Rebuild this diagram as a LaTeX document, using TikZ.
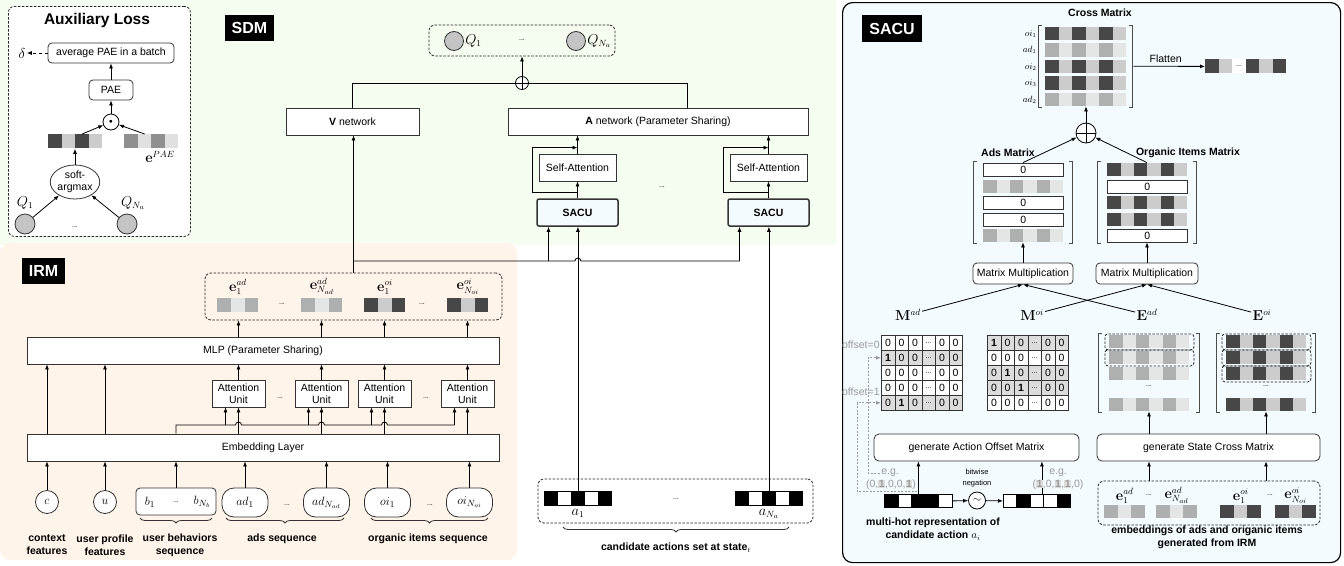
\documentclass[tikz,border=0pt]{standalone}
\usepackage{amsmath,amssymb}
\usepackage[no-math]{fontspec}
\setmainfont{Liberation Sans}
\usetikzlibrary{arrows.meta,shapes,positioning,calc,decorations.pathreplacing}

\definecolor{sdmbg}{HTML}{F4FDF0}
\definecolor{irmbg}{HTML}{FFF4EA}
\definecolor{sacubg}{HTML}{F3FBFE}
\definecolor{dk}{HTML}{474747}
\definecolor{lt}{HTML}{CCCCCC}
\definecolor{md}{HTML}{ADB0AF}
\definecolor{vl}{HTML}{E4E6E5}
\definecolor{pg}{HTML}{8F8F8F}
\definecolor{pl}{HTML}{E0E0E0}
\definecolor{qgray}{HTML}{C4C4C4}
\definecolor{shade}{HTML}{DCDCDC}
\definecolor{note}{HTML}{9A9A9A}

\newcommand{\figfont}{\fontsize{10.5}{12}\selectfont}
\newcommand{\dotsym}{{\fontsize{7}{7}\selectfont...}}
\newcommand{\hibit}[1]{{\setlength{\fboxsep}{0.5pt}\colorbox{shade}{\textbf{#1}}}}
% one row of coloured cells: [opts]{name}{x}{y}{cell w}{cell h}{fills}
\newcommand{\strip}[7][]{%
  \foreach \fc [count=\ci] in {#7}
    \node[cell, fill=\fc, minimum width=#5pt, minimum height=#6pt, #1] (#2-\ci) at ({#3+(\ci-1)*#5},#4) {};
}
% square brackets round a matrix node
\newcommand{\brk}[2]{%
  \draw[brk] ($(#1.north west)+(3-#2,-1)$) -- ++(-3,0) |- ($(#1.south west)+(3-#2,1)$);
  \draw[brk] ($(#1.north east)+(#2-3,-1)$) -- ++(3,0) |- ($(#1.south east)+(#2-3,1)$);
}

\tikzset{
    box/.style={
        rectangle,
        draw=black!80,
        fill=white,
        inner sep=1pt,
        align=center,
        font=\figfont,
    },
    rbox/.style={
        box,
        rounded corners=4pt,
    },
    sacubox/.style={
        box,
        fill=sacubg,
        line width=1.5pt,
        rounded corners=2pt,
        font=\figfont\bfseries,
    },
    pill/.style={
        rectangle,
        rounded corners=12pt,
        draw=black!80,
        fill=white,
        minimum width=46pt,
        minimum height=29pt,
        inner sep=0pt,
        font=\fontsize{12.5}{14}\selectfont,
    },
    tag/.style={
        rectangle,
        fill=black,
        text=white,
        inner xsep=7pt,
        inner ysep=7.5pt,
        font=\fontsize{16}{18}\selectfont\bfseries,
    },
    dashbox/.style={
        rectangle,
        draw=black!85,
        dash pattern=on 2.5pt off 1.5pt,
        rounded corners=6pt,
    },
    qnode/.style={
        circle,
        draw=black!80,
        fill=qgray,
        minimum size=19pt,
        inner sep=0pt,
    },
    op/.style={
        circle,
        draw=black,
        fill=white,
        inner sep=0pt,
    },
    oplus/.style={
        path picture={\draw (path picture bounding box.north) -- (path picture bounding box.south)
                            (path picture bounding box.west) -- (path picture bounding box.east);},
    },
    cell/.style={
        rectangle,
        inner sep=0pt,
        anchor=north west,
    },
    mcell/.style={
        cell,
        draw=black!80,
        line width=0.6pt,
        minimum width=13.5pt,
        minimum height=15pt,
        font=\figfont,
    },
    mlabel/.style={
        inner sep=1pt,
        font=\fontsize{13.5}{15}\selectfont,
    },
    lbl/.style={
        align=center,
        font=\fontsize{10.5}{13}\selectfont\bfseries,
    },
    gray note/.style={
        inner sep=1pt,
        text=note,
        font=\figfont,
    },
    offarrow/.style={
        ->,
        draw=note,
        dash pattern=on 2pt off 1.5pt,
        line width=0.7pt,
    },
    brk/.style={
        draw=black!70,
        line width=0.9pt,
    },
    brace/.style={
        decorate,
        decoration={brace, mirror, amplitude=5pt},
        draw=black!80,
    },
    every edge/.style={
        draw,
        ->,
    },
}

\begin{document}
\begin{tikzpicture}[x=1pt, y=-1pt, line width=0.8pt, >={Latex[length=5pt,width=4pt]}]
\useasboundingbox (0,0) rectangle (1344,565);

\fill[sdmbg] (0,0) rectangle (836,245);
\fill[irmbg, rounded corners=10pt] (0,243) rectangle (517,560);
\node[rectangle, draw=black, line width=1.2pt, fill=sacubg, rounded corners=10pt, anchor=north west,
      minimum width=498pt, minimum height=560pt] (sacupanel) at (842,2) {};

% auxiliary loss
\node[dashbox, fill=white, anchor=north west, minimum width=182pt, minimum height=230pt] (aux) at (8,6) {};
\node[font=\fontsize{15.5}{17}\selectfont\bfseries] (auxtitle) at (97,20) {Auxiliary Loss};
\node[rbox, minimum width=126pt, minimum height=20pt] (avg) at (111,53) {average PAE in a batch};
\node[mlabel] (delta) at (22,53) {$\delta$};
\node[rbox, minimum width=44pt, minimum height=20pt] (pae) at (111,90) {PAE};
\node[op, minimum size=16pt, font=\fontsize{7}{7}\selectfont] (dot) at (111,122) {$\bullet$};
\strip{pv}{48}{134}{13.5}{14}{dk,lt,dk,lt}
\strip{pe}{124}{134}{13.5}{14}{pg,pl,pg,pl}
\node[mlabel] (epae) at (160,157) {$\mathbf{e}^{PAE}$};
\node[ellipse, draw=black!80, fill=white, minimum width=46pt, minimum height=34pt, inner sep=0pt,
      align=center, font=\figfont] (smax) at (75,182) {soft-\\argmax};
\node[qnode, minimum size=20pt] (aq1) at (25,224) {};
\node[qnode, minimum size=20pt] (aqn) at (127,224) {};
\node[mlabel] (aq1l) at (25,203) {$Q_1$};
\node[mlabel] (aqnl) at (133,203) {$Q_{N_a}$};
\node (auxdots) at (75,227) {\dotsym};
\draw[dashed] (avg) edge (delta);
\draw (pae) edge (avg);
\draw (dot) edge (pae);
\draw (pv-3.north) edge (dot);
\draw (pe-2.north) edge (dot);
\draw (smax) edge (pv-3.south west);
\draw (aq1) edge (smax);
\draw (aqn) edge (smax);

% SDM
\node[tag] (sdm) at (249.5,28) {SDM};
\node[dashbox, minimum width=186pt, minimum height=31pt] (qbox) at (522,40.5) {};
\node[qnode] (q1) at (454,41) {};
\node[mlabel, right=0pt of q1] (q1l) {$Q_1$};
\node[qnode] (qn) at (576,41) {};
\node[mlabel, right=0pt of qn] (qnl) {$Q_{N_a}$};
\node (qdots) at (522,40) {\dotsym};
\node[op, oplus, minimum size=13pt] (sum) at (522,83) {};
\draw (sum) edge (qbox);
\node[box, minimum width=133pt, minimum height=27pt] (vnet) at (352.5,121.5) {\textbf{V} network};
\node[box, minimum width=300pt, minimum height=27pt] (anet) at (658,121.5) {\textbf{A} network (Parameter Sharing)};
\draw (vnet.north) |- (sum.west);
\draw ([xshift=29pt]anet.north) |- (sum.east);
\node[box, minimum width=77pt, minimum height=27pt] (sa1) at (577.5,167.5) {Self-Attention};
\node[sacubox, minimum width=81pt, minimum height=27pt] (sacu1) at (577.5,212.5) {SACU};
\node[box, minimum width=77pt, minimum height=27pt] (sa2) at (768.5,167.5) {Self-Attention};
\node[sacubox, minimum width=81pt, minimum height=27pt] (sacu2) at (768.5,212.5) {SACU};
\node (sadots) at (662,187) {\dotsym};
\foreach \s in {1,2} {
  \draw (sacu\s) edge (sa\s);
  \draw (sa\s) edge (sa\s.north |- anet.south);
  \draw[->] ($(sacu\s.north)+(0,-6)$) -- ++(-45,0) |- ($(sa\s.north)+(0,-6)$);
}

% IRM
\node[tag] (irm) at (43.5,270.5) {IRM};
\node[dashbox, minimum width=297pt, minimum height=47pt] (ebox) at (353.5,296.5) {};
\strip{iva}{217}{298}{13.67}{14}{md,vl,md}
\strip{ivb}{301}{298}{13.67}{14}{md,vl,md}
\strip{ivc}{364}{298}{13.67}{14}{dk,lt,dk}
\strip{ivd}{447}{298}{13.67}{14}{dk,lt,dk}
\node[mlabel, above=2pt of iva-2] (iea) {$\mathbf{e}^{ad}_1$};
\node[mlabel, above=2pt of ivb-2] (ieb) {$\mathbf{e}^{ad}_{N_{ad}}$};
\node[mlabel, above=2pt of ivc-2] (iec) {$\mathbf{e}^{oi}_1$};
\node[mlabel, above=2pt of ivd-2] (ied) {$\mathbf{e}^{oi}_{N_{oi}}$};
\node (edots1) at (282,304) {\dotsym};
\node (edots2) at (422,304) {\dotsym};
\node[box, minimum width=472pt, minimum height=27pt] (mlp) at (263,350.5) {MLP (Parameter Sharing)};
\foreach \i/\x in {1/238.5,2/321.5,3/384.5,4/467.5}
  \node[box, minimum width=53pt, minimum height=27pt, inner sep=0pt] (au\i) at (\x,393.5) {Attention\\Unit};
\node (audots1) at (280,398) {\dotsym};
\node (audots2) at (426,398) {\dotsym};
\node[box, minimum width=472pt, minimum height=27pt] (emb) at (263,447.5) {Embedding Layer};
\node[circle, draw=black!80, fill=white, minimum size=23pt, inner sep=0pt, font=\fontsize{12.5}{14}\selectfont] (ctx) at (47,502) {$c$};
\node[circle, draw=black!80, fill=white, minimum size=23pt, inner sep=0pt, font=\fontsize{12.5}{14}\selectfont] (usr) at (105,502) {$u$};
\node[rbox, minimum width=80pt, minimum height=27pt] (beh) at (176,501.5) {};
\node[font=\fontsize{12.5}{14}\selectfont] (b1) at (150,502) {$b_1$};
\node (bdots) at (176,502) {\dotsym};
\node[font=\fontsize{12.5}{14}\selectfont] (bn) at (202,502) {$b_{N_b}$};
\node[pill] (ad1) at (245,502.5) {$ad_1$};
\node[pill] (adn) at (326.5,502.5) {$ad_{N_{ad}}$};
\node[pill] (oi1) at (387.5,502.5) {$oi_1$};
\node[pill] (oin) at (469.5,502.5) {$oi_{N_{oi}}$};
\node (pdots1) at (287,505) {\dotsym};
\node (pdots2) at (430,505) {\dotsym};
\draw[brace] (140,518) -- (212,518);
\draw[brace] (226,518) -- (344,518);
\draw[brace] (371,518) -- (488,518);
\node[lbl] (lctx) at (47,545) {context\\features};
\node[lbl] (lusr) at (105,545) {user profile\\features};
\node[lbl] (lbeh) at (180,545) {user behaviors\\sequence};
\node[lbl] (lads) at (282,538.5) {ads sequence};
\node[lbl] (loi) at (428,538.5) {organic items sequence};
\foreach \n in {ctx,usr,beh,ad1,adn,oi1,oin}
  \draw (\n) edge (\n.north |- emb.south);
\foreach \n in {ctx,usr}
  \draw (\n.north |- emb.north) edge (\n.north |- mlp.south);
\foreach \i in {1,...,4} {
  \coordinate (in\i) at ([xshift=-13pt]au\i.south);
  \draw (au\i) edge (au\i.north |- mlp.south);
  \draw (au\i.north |- mlp.north) edge (au\i.north |- ebox.south);
  \draw (au\i.south |- emb.north) edge (au\i.south);
}
\coordinate (bus) at (176,425);
\draw (beh.north |- emb.north) -- (bus)
  -- ($(au1.south |- bus)+(-3,0)$) arc[start angle=180, end angle=360, radius=3]
  -- ($(au2.south |- bus)+(-3,0)$) arc[start angle=180, end angle=360, radius=3]
  -- ($(au3.south |- bus)+(-3,0)$) arc[start angle=180, end angle=360, radius=3]
  -- (in4 |- bus) edge (in4);
\foreach \i in {1,2,3}
  \draw (in\i |- bus) edge (in\i);

% candidate actions
\node[dashbox, minimum width=275pt, minimum height=44pt] (cand) at (675.5,501) {};
\strip[draw=black]{a1}{544}{491}{13.4}{14}{black,white,black,white,black}
\strip[draw=black]{an}{735}{491}{13.4}{14}{black,white,black,white,black}
\node[mlabel, below=2pt of a1-3] (a1l) {$a_1$};
\node[mlabel, below=2pt of an-3] (anl) {$a_{N_a}$};
\node (cdots) at (676,499) {\dotsym};
\draw[brace] (563,527) -- (789,527);
\node[lbl] (lcand) at (676,548) {candidate actions set at state$_t$};

% IRM and candidates into SDM
\coordinate (jn) at (ebox.north |- 0,261);
\draw (ebox.north) edge (ebox.north |- vnet.south);
\draw (jn) -- ($(a1-3.north |- jn)+(-3,0)$) arc[start angle=180, end angle=360, radius=3]
  -- ([xshift=-29pt]sacu2.south |- jn) edge ([xshift=-29pt]sacu2.south);
\draw ([xshift=-29pt]sacu1.south |- jn) edge ([xshift=-29pt]sacu1.south);
\draw (a1-3.north) edge (a1-3.north |- sacu1.south);
\draw (an-3.north) edge (an-3.north |- sacu2.south);

% SACU
\node[tag] (sacutag) at (892,28.5) {SACU};
\node[lbl] (cmt) at (1100,13) {Cross Matrix};
\node[inner sep=0pt, minimum width=81pt, minimum height=79.5pt] (cm) at (1085.5,66.25) {};
\strip{cmA}{1045}{26.5}{13.5}{13.5}{dk,lt,dk,lt,dk,lt}
\strip{cmB}{1045}{43}{13.5}{13.5}{md,vl,md,vl,md,vl}
\strip{cmC}{1045}{59.5}{13.5}{13.5}{dk,lt,dk,lt,dk,lt}
\strip{cmD}{1045}{76}{13.5}{13.5}{dk,lt,dk,lt,dk,lt}
\strip{cmE}{1045}{92.5}{13.5}{13.5}{md,vl,md,vl,md,vl}
\foreach \rw/\txt in {A/oi_1,B/ad_1,C/oi_2,D/oi_3,E/ad_2}
  \node[left=8pt of cm\rw-1, inner sep=0pt, font=\fontsize{9}{10}\selectfont] (rl\rw) {$\txt$};
\brk{cm}{6}
\strip{flat}{1205}{59}{13.5}{14}{dk,lt,white,dk,lt,dk}
\node (fdots) at (flat-3) {\dotsym};
\draw (cm.east) edge[shorten <=7pt] node[above, font=\figfont] (flab) {Flatten} (flat-1.west);
\node[op, oplus, minimum size=20pt] (sum2) at (1086,133) {};
\draw (sum2) edge (sum2 |- cm.south);

\node[lbl] (amt) at (1008,153) {Ads Matrix};
\node[lbl] (omt) at (1188,153) {Organic Items Matrix};
\node[inner sep=0pt, minimum width=80pt, minimum height=79pt] (am) at (1023,202.5) {};
\node[box, cell, minimum width=80pt, minimum height=13pt] (am1) at (983,163) {0};
\strip{am2}{983}{179.5}{13.33}{13}{md,vl,md,vl,md,vl}
\node[box, cell, minimum width=80pt, minimum height=13pt] (am3) at (983,196) {0};
\node[box, cell, minimum width=80pt, minimum height=13pt] (am4) at (983,212.5) {0};
\strip{am5}{983}{229}{13.33}{13}{md,vl,md,vl,md,vl}
\node[inner sep=0pt, minimum width=80pt, minimum height=79pt] (om) at (1147,202.5) {};
\strip{om1}{1107}{163}{13.33}{13}{dk,lt,dk,lt,dk,lt}
\node[box, cell, minimum width=80pt, minimum height=13pt] (om2) at (1107,179.5) {0};
\strip{om3}{1107}{196}{13.33}{13}{dk,lt,dk,lt,dk,lt}
\strip{om4}{1107}{212.5}{13.33}{13}{dk,lt,dk,lt,dk,lt}
\node[box, cell, minimum width=80pt, minimum height=13pt] (om5) at (1107,229) {0};
\brk{am}{9}
\brk{om}{9}
\draw (am.north) edge (sum2);
\draw (om.north) edge (sum2);
\node[rbox, minimum width=100pt, minimum height=21pt] (mm1) at (1023,273.5) {Matrix Multiplication};
\node[rbox, minimum width=102pt, minimum height=21pt] (mm2) at (1147,273.5) {Matrix Multiplication};
\draw (mm1) edge (am.south);
\draw (mm2) edge (om.south);

\node[mlabel] (mad) at (908,315) {$\mathbf{M}^{ad}$};
\node[mlabel] (moi) at (1032,315) {$\mathbf{M}^{oi}$};
\node[mlabel] (ead) at (1147,315) {$\mathbf{E}^{ad}$};
\node[mlabel] (eoi) at (1262,315) {$\mathbf{E}^{oi}$};
\draw (mad) edge (mm1.south);
\draw (ead) edge (mm1.south);
\draw (moi) edge (mm2.south);
\draw (eoi) edge (mm2.south);

\foreach \rw/\sh/\vals in {1/white/{0,0,0,\dotsym,0,0},2/shade/{\textbf{1},0,0,\dotsym,0,0},3/white/{0,0,0,\dotsym,0,0},4/white/{0,0,0,\dotsym,0,0},5/shade/{0,\textbf{1},0,\dotsym,0,0}}
  \foreach \val [count=\ci] in \vals
    \node[mcell, fill=\sh] (mad-\rw-\ci) at ({881+(\ci-1)*13.5},{335+(\rw-1)*15}) {\val};
\foreach \rw/\sh/\vals in {1/shade/{\textbf{1},0,0,\dotsym,0,0},2/white/{0,0,0,\dotsym,0,0},3/shade/{0,\textbf{1},0,\dotsym,0,0},4/shade/{0,0,\textbf{1},\dotsym,0,0},5/white/{0,0,0,\dotsym,0,0}}
  \foreach \val [count=\ci] in \vals
    \node[mcell, fill=\sh] (moi-\rw-\ci) at ({987+(\ci-1)*13.5},{335+(\rw-1)*15}) {\val};
\node[gray note, anchor=east] (off0) at (881,345) {offset=0};
\node[gray note, anchor=east] (off1) at (881,392) {offset=1};

\node[inner sep=0pt, minimum width=80pt, minimum height=76pt] (eadm) at (1149,373) {};
\strip{ea1}{1109}{335}{13.33}{13}{md,vl,md,vl,md,vl}
\strip{ea2}{1109}{351}{13.33}{13}{md,vl,md,vl,md,vl}
\strip{ea3}{1109}{367}{13.33}{13}{md,vl,md,vl,md,vl}
\strip{ea4}{1109}{398}{13.33}{13}{md,vl,md,vl,md,vl}
\node (eadots) at (1149,386) {\dotsym};
\node[dashbox, rounded corners=3pt, minimum width=89pt, minimum height=16pt] (eab1) at ($(ea1-1.west)!0.5!(ea1-6.east)$) {};
\node[dashbox, rounded corners=3pt, minimum width=89pt, minimum height=16pt] (eab2) at ($(ea2-1.west)!0.5!(ea2-6.east)$) {};
\node[inner sep=0pt, minimum width=80pt, minimum height=76pt] (eoim) at (1266,373) {};
\strip{eo1}{1226}{335}{13.33}{13}{dk,lt,dk,lt,dk,lt}
\strip{eo2}{1226}{351}{13.33}{13}{dk,lt,dk,lt,dk,lt}
\strip{eo3}{1226}{367}{13.33}{13}{dk,lt,dk,lt,dk,lt}
\strip{eo4}{1226}{398}{13.33}{13}{dk,lt,dk,lt,dk,lt}
\node (eodots) at (1266,386) {\dotsym};
\foreach \k in {1,2,3}
  \node[dashbox, rounded corners=3pt, minimum width=89pt, minimum height=16pt] (eob\k) at ($(eo\k-1.west)!0.5!(eo\k-6.east)$) {};
\brk{eadm}{10}
\brk{eoim}{9}

\node[rbox, rounded corners=5pt, minimum width=205pt, minimum height=27pt] (gact) at (976.5,447.5) {generate Action Offset Matrix};
\node[rbox, rounded corners=5pt, minimum width=223pt, minimum height=27pt] (gst) at (1208.5,447.5) {generate State Cross Matrix};
\draw (gst.north -| eadm) edge (eadm.south);
\draw (gst.north -| eoim) edge (eoim.south);

\strip[draw=black]{mh}{884}{494}{13.6}{13}{black,white,black,black,white}
\node[op, minimum size=17pt, font=\figfont] (neg) at (977,500.5) {$\sim$};
\node[align=center, font=\fontsize{7.5}{11.5}\selectfont] (negl) at (977,478) {bitwise\\negation};
\strip[draw=black]{nv}{1003}{494}{13.4}{13}{white,black,white,white,black}
\draw (mh-5.east) edge (neg);
\draw (neg) edge (nv-1.west);
\draw (mh-3.north) edge (mh-3.north |- gact.south);
\draw ([xshift=5pt]nv-3.north) edge ([xshift=5pt]nv-3.north |- gact.south);
\node[gray note] (eg1) at (890,473) {e.g.};
\node[gray note] (ex1) at (891,485) {(0,\hibit{1},0,0,\hibit{1})};
\node[gray note] (eg2) at (1058,473) {e.g.};
\node[gray note] (ex2) at (1058,485) {(\hibit{1},0,\hibit{1},\hibit{1},0)};
\draw[offarrow] (eg1.west) -| ($(mad-2-1.west)+(-13,0)$) -- (mad-2-1.west);
\draw[offarrow] (ex1.south east) -| ($(mad-5-1.west)+(-24,0)$) -- (mad-5-1.west);
\node[lbl] (lmh) at (933,529) {multi-hot representation of\\candidate action $a_i$};

\node[dashbox, minimum width=222pt, minimum height=44pt] (sebox) at (1209,503) {};
\strip{sva}{1104}{505}{13.5}{13}{md,vl,md}
\strip{svb}{1156}{505}{13.5}{13}{md,vl,md}
\strip{svc}{1220}{505}{13.5}{13}{dk,lt,dk}
\strip{svd}{1275}{505}{13.5}{13}{dk,lt,dk}
\node[mlabel, above=0pt of sva-2] (sea) {$\mathbf{e}^{ad}_1$};
\node[mlabel, above=0pt of svb-2] (seb) {$\mathbf{e}^{ad}_{N_{ad}}$};
\node[mlabel, above=0pt of svc-2] (sec) {$\mathbf{e}^{oi}_1$};
\node[mlabel, above=0pt of svd-2] (sed) {$\mathbf{e}^{oi}_{N_{oi}}$};
\node[inner sep=0pt] (sdots1) at (1149,495) {\dotsym};
\node[inner sep=0pt] (sdots2) at (1270,495) {\dotsym};
\draw (sebox.north -| eadm) edge (gst.south -| eadm);
\draw (sebox.north -| eoim) edge (gst.south -| eoim);
\node[lbl] (lseb) at (1207,537) {embeddings of ads and origanic items\\generated from IRM};
\end{tikzpicture}
\end{document}
